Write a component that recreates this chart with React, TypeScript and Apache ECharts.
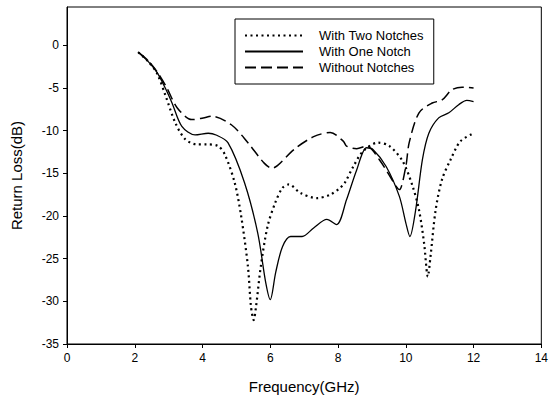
import React, { useEffect, useRef } from "react";
import * as echarts from "echarts";

const seriesNames = ["With Two Notches", "With One Notch", "Without Notches"];

const twoNotches: [number, number][] = [
  [2.1, -0.8], [2.4, -1.9], [2.66, -3.3], [2.9, -5.8], [3.2, -9.1], [3.49, -11.0],
  [3.83, -11.6], [4.12, -11.6], [4.46, -11.8], [4.66, -12.8], [4.95, -16.1], [5.14, -20.0],
  [5.34, -25.9], [5.43, -30.6], [5.51, -32.2], [5.58, -30.6], [5.72, -25.9], [5.92, -21.2],
  [6.14, -18.5], [6.36, -16.7], [6.55, -16.3], [6.89, -17.3], [7.38, -17.9], [7.77, -17.5],
  [8.06, -16.7], [8.2, -16.1], [8.45, -14.2], [8.74, -12.4], [9.18, -11.4], [9.52, -11.8],
  [9.91, -13.6], [10.2, -16.5], [10.39, -19.3], [10.54, -23.2], [10.65, -27.1], [10.73, -24.7],
  [10.88, -19.3], [11.07, -15.7], [11.32, -13.4], [11.61, -11.25], [12.0, -10.3],
];

const oneNotch: [number, number][] = [
  [2.1, -0.8], [2.4, -1.9], [2.66, -3.2], [2.9, -5.0], [3.1, -6.75], [3.39, -9.5],
  [3.78, -10.5], [4.17, -10.3], [4.4, -10.5], [4.75, -11.4], [5.24, -16.1], [5.63, -22.0],
  [5.87, -27.9], [6.0, -29.8], [6.16, -26.6], [6.36, -23.6], [6.6, -22.4], [6.94, -22.4],
  [7.28, -21.4], [7.67, -20.4], [7.96, -21.0], [8.25, -18.1], [8.55, -14.6], [8.84, -12.0],
  [9.03, -12.2], [9.42, -14.2], [9.81, -17.7], [10.0, -20.8], [10.12, -22.4], [10.29, -19.3],
  [10.49, -13.4], [10.68, -10.3], [10.97, -8.5], [11.27, -7.9], [11.56, -6.95], [11.8, -6.45],
  [12.0, -6.6],
];

const withoutNotches: [number, number][] = [
  [2.1, -0.8], [2.4, -1.8], [2.66, -3.1], [2.95, -5.0], [3.25, -7.3], [3.68, -8.7],
  [4.02, -8.5], [4.27, -8.3], [4.85, -9.3], [5.34, -11.4], [5.82, -13.8], [6.05, -14.4],
  [6.21, -14.1], [6.7, -12.2], [7.28, -10.7], [7.77, -10.2], [8.16, -11.25], [8.25, -11.8],
  [8.55, -12.1], [8.84, -11.8], [9.22, -13.4], [9.71, -16.5], [9.81, -16.9], [10.0, -14.2],
  [10.1, -11.4], [10.39, -7.9], [10.78, -6.75], [11.07, -6.4], [11.36, -5.2], [11.66, -4.9],
  [12.0, -5.0],
];

const yTicks = [-35, -30, -25, -20, -15, -10, -5, 0];

const FONT = "'Liberation Sans', Arial, sans-serif";

export default function App() {
  const ref = useRef<HTMLDivElement>(null);
  useEffect(() => {
    if (!ref.current) return;
    const chart = echarts.init(ref.current, undefined, { renderer: "svg" });
    const lineBase = { type: "line", showSymbol: false, symbol: "none", smooth: 0.3 };
    chart.setOption({
      animation: false,
      backgroundColor: "#fff",
      textStyle: { fontFamily: FONT },
      grid: {
        left: 67, right: 4, top: 7, bottom: 58,
        show: true, borderColor: "#000", borderWidth: 1,
      },
      legend: {
        orient: "vertical",
        left: 235, top: 19,
        padding: [10, 10, 10, 9],
        itemWidth: 58, itemHeight: 14, itemGap: 3,
        borderColor: "#000", borderWidth: 1,
        itemStyle: { opacity: 0, borderWidth: 0, color: "transparent" },
        textStyle: { fontSize: 13, color: "#000", fontFamily: FONT, padding: [0, 0, 0, 11] },
        data: seriesNames,
      },
      xAxis: {
        type: "value", min: 0, max: 14, interval: 2,
        name: "Frequency(GHz)", nameLocation: "middle", nameGap: 35,
        nameTextStyle: { fontSize: 15, color: "#000", fontFamily: FONT },
        axisLine: { onZero: false, lineStyle: { color: "#000", width: 1 } },
        axisTick: { show: true, length: 4, lineStyle: { color: "#000" } },
        axisLabel: { fontSize: 12, color: "#000", margin: 8, fontFamily: FONT },
        splitLine: { show: false },
      },
      yAxis: {
        type: "value", min: -35, max: 4.5,
        name: "Return Loss(dB)", nameLocation: "middle", nameGap: 43,
        nameTextStyle: { fontSize: 15, color: "#000", fontFamily: FONT },
        axisLine: { onZero: false, lineStyle: { color: "#000", width: 1 } },
        axisTick: { show: true, length: 4, lineStyle: { color: "#000" }, customValues: yTicks },
        axisLabel: {
          fontSize: 12, color: "#000", margin: 8, fontFamily: FONT, customValues: yTicks,
          formatter: (v: number) => (yTicks.includes(v) ? String(v) : ""),
        },
        splitLine: { show: false },
      },
      series: [
        {
          ...lineBase, name: seriesNames[0], data: twoNotches,
          lineStyle: { color: "#000", width: 2.2, type: [2, 3.5], cap: "butt" },
          itemStyle: { color: "#000" },
        },
        {
          ...lineBase, name: seriesNames[1], data: oneNotch,
          lineStyle: { color: "#000", width: 1.3, type: "solid" },
          itemStyle: { color: "#000" },
        },
        {
          ...lineBase, name: seriesNames[2], data: withoutNotches,
          lineStyle: { color: "#000", width: 1.5, type: [11, 5] },
          itemStyle: { color: "#000" },
        },
      ],
    });
    return () => chart.dispose();
  }, []);
  return (
    <div
      ref={ref}
      style={{ position: "absolute", left: 0, top: 0, width: 551, height: 402, background: "#fff" }}
    />
  );
}
